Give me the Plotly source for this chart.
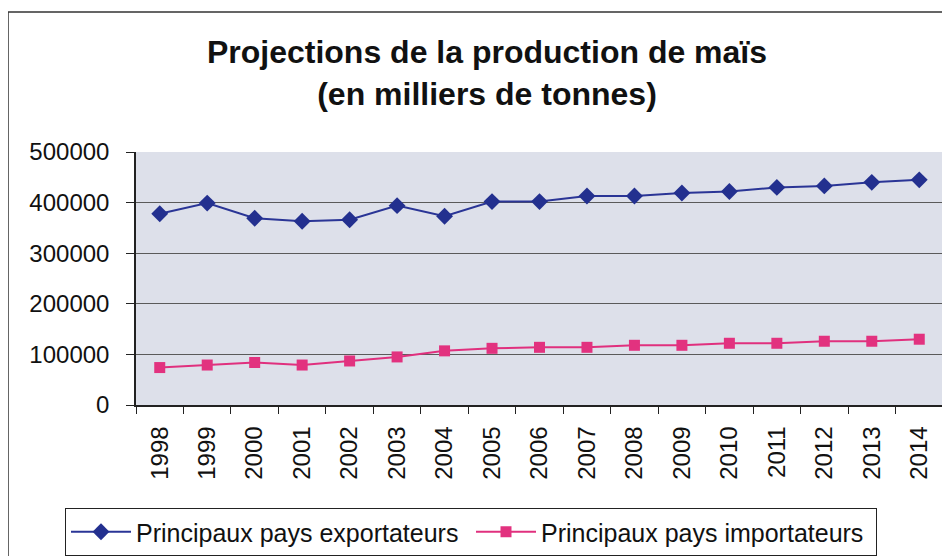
import plotly.graph_objects as go

years = [str(y) for y in range(1998, 2015)]
exportateurs = [378000, 399000, 369000, 363000, 366000, 394000, 373000, 402000, 402000,
                413000, 413000, 419000, 422000, 430000, 433000, 440000, 445000]
importateurs = [74000, 79000, 84000, 79000, 87000, 95000, 107000, 112000, 114000,
                114000, 118000, 118000, 122000, 122000, 126000, 126000, 130000]
y_ticks = [0, 100000, 200000, 300000, 400000, 500000]

# the page body has an 8px margin, so the figure is drawn 8px in from the window
OFF = 8
W, H = 950 - OFF, 556 - OFF
L, R, T, B = 136 - OFF, 7, 152 - OFF, 151
pw, ph = W - L - R, H - T - B

def px(x):  # window pixel x -> paper fraction
    return (x - OFF - L) / pw

def py(y):  # window pixel y -> paper fraction
    return (H - B - (y - OFF)) / ph

font = "Liberation Sans, Arial, sans-serif"

fig = go.Figure()
fig.add_trace(go.Scatter(
    x=years, y=exportateurs, name="Principaux pays exportateurs",
    mode="lines+markers",
    line=dict(color="#2a3596", width=2),
    marker=dict(symbol="diamond", size=13, color="#23308f"),
))
fig.add_trace(go.Scatter(
    x=years, y=importateurs, name="Principaux pays importateurs",
    mode="lines+markers",
    line=dict(color="#e0307e", width=2),
    marker=dict(symbol="square", size=11, color="#e2327f"),
))

fig.update_layout(
    width=W, height=H,
    margin=dict(l=L, r=R, t=T, b=B, autoexpand=False),
    paper_bgcolor="white",
    plot_bgcolor="#dde0ea",
    font=dict(family=font, size=24, color="#111"),
    title=dict(
        text="<b>Projections de la production de maïs<br>(en milliers de tonnes)</b>",
        x=px(487), xanchor="center", xref="paper",
        y=1 - 55 / H, yanchor="top",
        font=dict(size=32, family=font, color="#111"),
    ),
    showlegend=True,
    legend=dict(
        orientation="h",
        xref="container",
        x=(65 - OFF) / W, xanchor="left",
        y=py(508), yanchor="top",
        bordercolor="#222", borderwidth=1,
        bgcolor="white",
        font=dict(size=25, family=font, color="#111"),
        itemwidth=60,
        entrywidth=330, entrywidthmode="pixels",
        tracegroupgap=0,
    ),
    xaxis=dict(
        type="category",
        tickangle=-90,
        ticks="outside", ticklen=7, tickcolor="#222",
        tickson="boundaries",
        ticklabelstandoff=10,
        showline=True, linecolor="#222", linewidth=1.5,
        showgrid=False, mirror=False, automargin=False,
        tickfont=dict(size=24, family=font, color="#111"),
        range=[-0.5, len(years) - 0.5],
    ),
    yaxis=dict(
        range=[0, 500000],
        tickvals=y_ticks,
        ticktext=[str(v) for v in y_ticks],
        ticks="outside", ticklen=8, tickcolor="#222",
        ticklabelstandoff=12,
        showline=True, linecolor="#222", linewidth=1.5,
        showgrid=True, gridcolor="#5a5a5a", gridwidth=1,
        zeroline=False, automargin=False,
        tickfont=dict(size=24, family=font, color="#111"),
    ),
)

# right edge of plot area
fig.add_shape(type="line", xref="paper", yref="paper", x0=1, x1=1, y0=0, y1=1,
              line=dict(color="#555", width=1))

# outer frame around the chart
fig.add_shape(type="rect", xref="paper", yref="paper",
              x0=px(8), x1=px(970), y0=py(580), y1=py(12),
              line=dict(color="#333", width=1.5), layer="below")

fig.write_html("out.html")
